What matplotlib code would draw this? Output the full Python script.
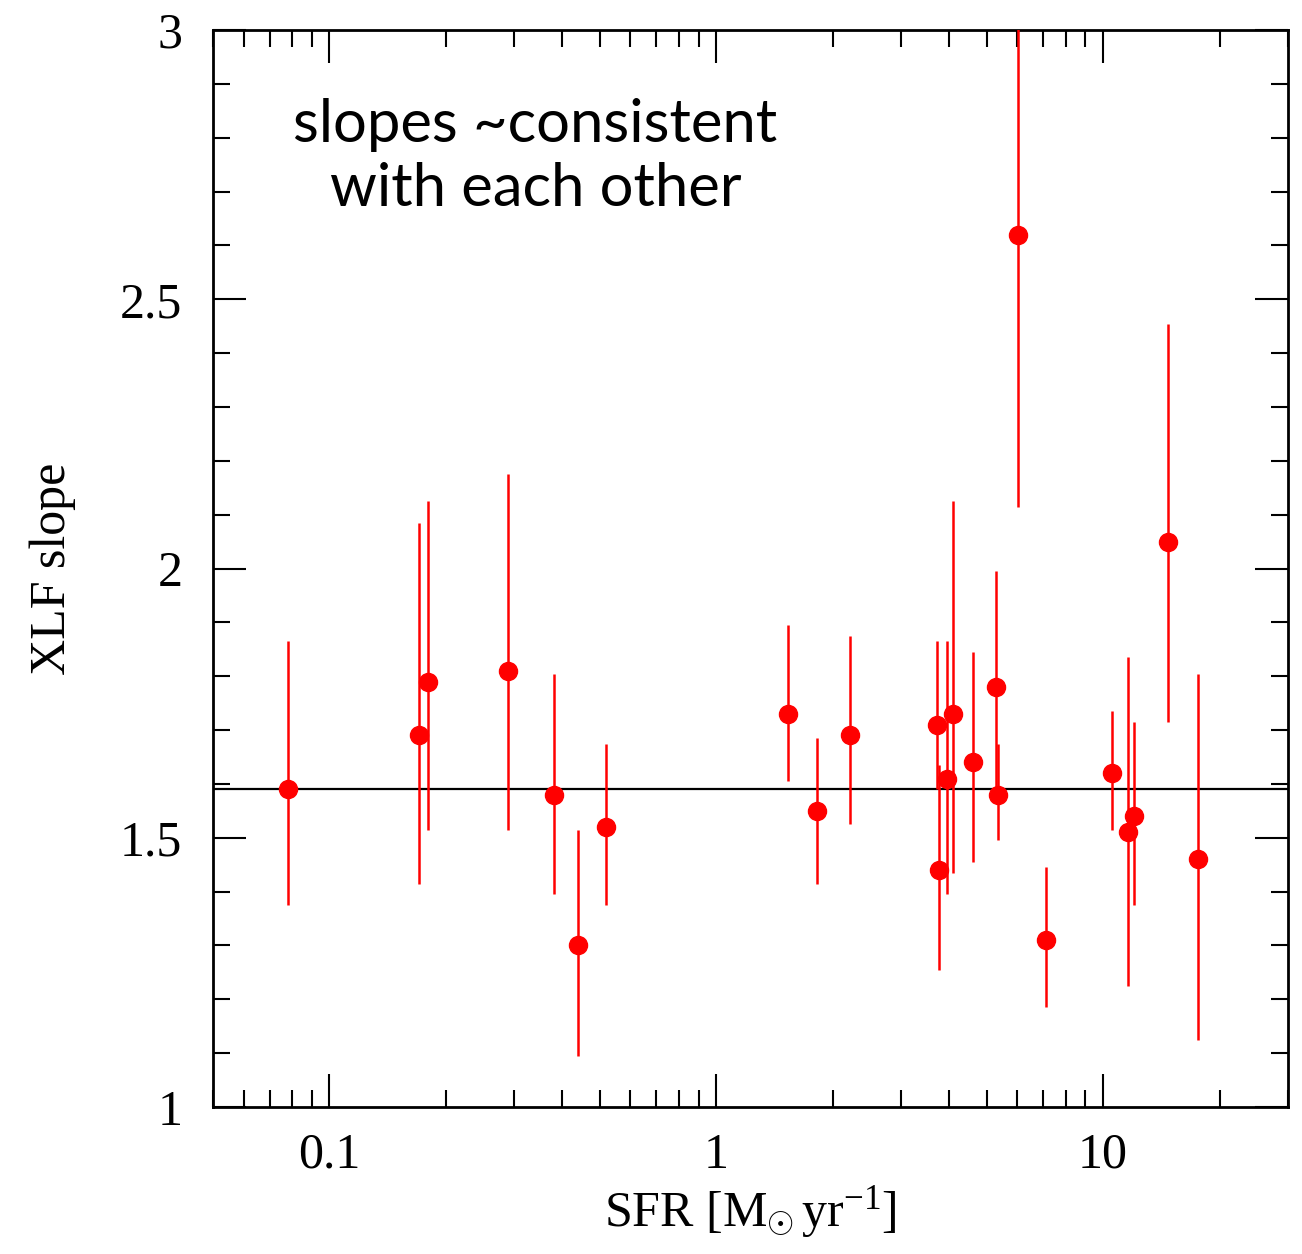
import numpy as np
import matplotlib
matplotlib.use("Agg")
import matplotlib.pyplot as plt
from matplotlib.ticker import LogLocator, MultipleLocator, FixedLocator, FixedFormatter

# star formation rate of each galaxy [Msun/yr]
sfr = [0.078, 0.17, 0.18, 0.29, 0.38, 0.44, 0.52,
       1.53, 1.82, 2.22, 3.73, 3.77, 3.95, 4.09, 4.60, 5.30, 5.36,
       6.01, 7.12, 10.56, 11.59, 12.03, 14.7, 17.6]
# XLF slope and its error range
slope = [1.59, 1.69, 1.79, 1.81, 1.58, 1.30, 1.52,
         1.73, 1.55, 1.69, 1.71, 1.44, 1.61, 1.73, 1.64, 1.78, 1.58,
         2.62, 1.31, 1.62, 1.51, 1.54, 2.05, 1.46]
slope_hi = [1.865, 2.085, 2.125, 2.175, 1.805, 1.515, 1.675,
            1.895, 1.685, 1.875, 1.865, 1.635, 1.865, 2.125, 1.845, 1.995, 1.675,
            3.20, 1.445, 1.735, 1.835, 1.715, 2.455, 1.805]
slope_lo = [1.375, 1.415, 1.515, 1.515, 1.395, 1.095, 1.375,
            1.605, 1.415, 1.525, 1.59, 1.255, 1.395, 1.435, 1.455, 1.59, 1.495,
            2.115, 1.185, 1.515, 1.225, 1.375, 1.715, 1.125]
mean_slope = 1.59

plt.rcParams['font.family'] = ['Liberation Serif', 'DejaVu Serif']
plt.rcParams['mathtext.fontset'] = 'custom'
plt.rcParams['mathtext.rm'] = 'Liberation Serif'
plt.rcParams['mathtext.it'] = 'Liberation Serif:italic'

fig = plt.figure(figsize=(13.02, 12.54), dpi=100)
ax = fig.add_axes([0.1636, 0.1172, 0.8254, 0.8588])

y = np.array(slope)
yerr = [y - np.array(slope_lo), np.array(slope_hi) - y]
ax.errorbar(sfr, y, yerr=yerr, fmt='o', color='#ff0000', ecolor='#ff0000',
            markersize=13, elinewidth=1.8, capsize=0, zorder=3)
ax.axhline(mean_slope, color='black', lw=1.6, zorder=2)

ax.set_xscale('log')
ax.set_xlim(0.05, 30)
ax.set_ylim(1, 3)

ax.xaxis.set_major_locator(FixedLocator([0.1, 1, 10]))
ax.xaxis.set_major_formatter(FixedFormatter(['0.1', '1', '10']))
ax.xaxis.set_minor_locator(LogLocator(base=10, subs=np.arange(2, 10)))
ax.xaxis.set_minor_formatter(plt.NullFormatter())
ax.yaxis.set_minor_locator(MultipleLocator(0.1))
ax.set_yticks([1, 1.5, 2, 2.5, 3])
ax.set_yticklabels(['1', '1.5', '2', '2.5', '3'])

ax.tick_params(which='both', direction='in', top=True, right=True,
               labelsize=36, width=1.5)
ax.tick_params(axis='y', pad=22)
ax.tick_params(axis='x', pad=18)
ax.tick_params(which='major', length=24)
ax.tick_params(which='minor', length=12)
for s in ax.spines.values():
    s.set_linewidth(2)

ax.set_xlabel(r'SFR $[\mathrm{M}_{\odot}\,\mathrm{yr}^{-1}]$', fontsize=36, labelpad=4)
ax.set_ylabel('XLF slope', fontsize=36, labelpad=32)

ax.text(0.30, 0.882, 'slopes ~consistent\nwith each other', transform=ax.transAxes,
        ha='center', va='center', fontsize=43, family=['Lato', 'DejaVu Sans'],
        linespacing=1.22)

fig.savefig('out.png', dpi=100)
